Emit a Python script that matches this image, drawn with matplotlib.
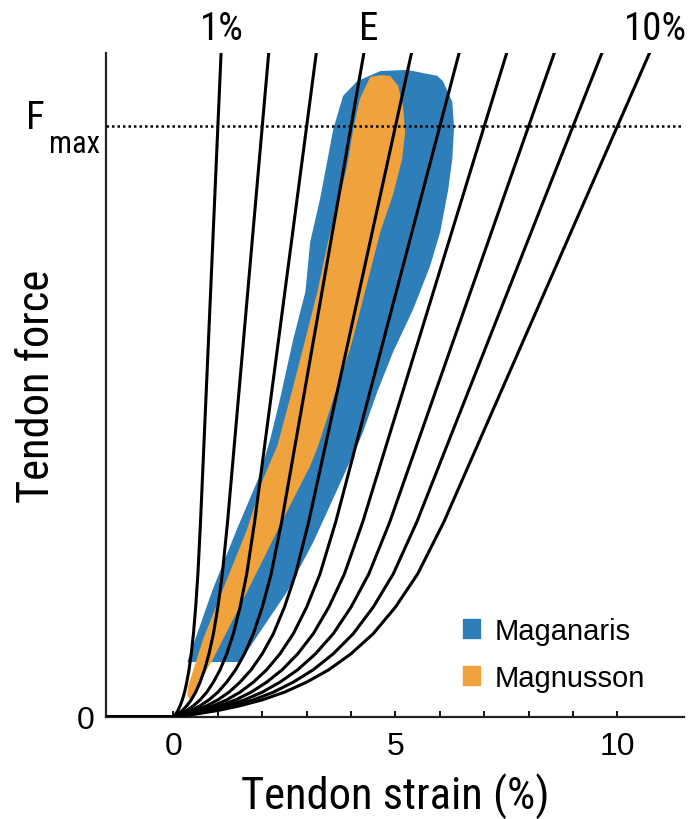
import numpy as np
import matplotlib.pyplot as plt
from matplotlib.patches import Patch

plt.rcParams['font.family'] = ['Liberation Sans', 'DejaVu Sans']
narrow = ['Roboto Condensed', 'Liberation Sans', 'DejaVu Sans']

# strain (%) at which each tendon curve reaches Fmax
strain_at_fmax = [1, 2, 3, 4, 5, 6, 7, 8, 9, 10]

# common curve shape (strain / strain at Fmax, force / Fmax)
shape_u = [-2.0, 0.0, 0.05, 0.10, 0.15, 0.20, 0.25, 0.30, 0.35, 0.40,
           0.45, 0.50, 0.55, 0.609, 1.10]
shape_f = [0.0, 0.0, 0.005, 0.011, 0.019, 0.029, 0.042, 0.059, 0.080, 0.107,
           0.141, 0.186, 0.242, 0.330, 1.171]

# Maganaris region outline (strain %, force / Fmax)
maganaris_x = [0.31, 0.89, 1.43, 1.91, 2.18, 2.40, 2.70, 2.97, 3.08, 3.30,
               3.46, 3.60, 3.82, 4.14, 4.66, 5.26, 5.94, 6.07, 6.28, 6.32,
               6.28, 6.19, 6.01, 5.78, 5.40, 4.95, 4.59, 4.27, 4.14, 3.15,
               2.56, 1.95, 1.50]
maganaris_f = [0.093, 0.217, 0.318, 0.403, 0.470, 0.538, 0.640, 0.719, 0.804, 0.876,
               0.939, 0.995, 1.051, 1.076, 1.093, 1.095, 1.085, 1.076, 1.041, 0.998,
               0.944, 0.893, 0.821, 0.763, 0.690, 0.618, 0.550, 0.482, 0.459, 0.296,
               0.212, 0.144, 0.093]

# Magnusson region outline
magnusson_x = [0.38, 0.31, 0.33, 0.67, 1.12, 1.66, 2.02, 2.34, 2.70, 3.01,
               3.24, 3.48, 3.71, 3.91, 4.05, 4.20, 4.43, 4.66, 4.88, 5.06,
               5.17, 5.22, 5.15, 4.95, 4.66, 4.27, 3.98, 3.60, 3.26, 3.08,
               2.47, 1.95, 1.43, 0.89, 0.53]
magnusson_f = [0.029, 0.036, 0.052, 0.132, 0.217, 0.318, 0.403, 0.459, 0.560, 0.651,
               0.719, 0.804, 0.868, 0.932, 0.995, 1.046, 1.083, 1.086, 1.085, 1.068,
               1.034, 0.990, 0.944, 0.885, 0.821, 0.707, 0.623, 0.538, 0.459, 0.425,
               0.335, 0.256, 0.178, 0.098, 0.052]

blue = '#2E7EBA'
orange = '#F0A33C'

fig = plt.figure(figsize=(6.91, 8.20), dpi=100)
ax = fig.add_axes([0.1534, 0.1244, 0.8365, 0.8097])

ax.fill(maganaris_x, maganaris_f, color=blue, lw=0, zorder=1)
ax.fill(magnusson_x, magnusson_f, color=orange, lw=0, zorder=2)

u = np.array(shape_u)
for s in strain_at_fmax:
    ax.plot(u * s, shape_f, color='black', lw=2.2, zorder=3)

ax.axhline(1.0, color='black', lw=1.8, ls=(0, (1.0, 1.2)), zorder=4)

ax.set_xlim(-1.52, 11.5)
ax.set_ylim(0, 1.1235)
ax.set_xticks(range(0, 11))
ax.set_xticklabels(['0', '', '', '', '', '5', '', '', '', '', '10'])
ax.set_yticks([0])
ax.set_yticklabels(['0'])
ax.tick_params(axis='x', direction='in', length=4.5, width=1.3, labelsize=23, pad=10)
ax.tick_params(axis='y', length=0, labelsize=23, pad=8)

for side in ['top', 'right']:
    ax.spines[side].set_visible(False)
for side in ['left', 'bottom']:
    ax.spines[side].set_linewidth(1.6)
    ax.spines[side].set_color('#222222')

ax.set_xlabel('Tendon strain (%)', fontsize=32, family=narrow, labelpad=9)
ax.set_ylabel('Tendon force', fontsize=32, family=narrow)
ax.yaxis.set_label_coords(-0.083, 0.5)

# Fmax label
ax.text(-0.1055, 1.015, 'F', transform=ax.get_yaxis_transform(),
        ha='right', va='center', fontsize=28, family=narrow)
ax.text(-0.0986, 0.956, 'max', transform=ax.get_yaxis_transform(),
        ha='left', va='baseline', fontsize=22, family=narrow)

# labels above the curves
top = ax.get_xaxis_transform()
ax.text(1.08, 1.021, '1%', transform=top, ha='center', va='baseline', fontsize=28, family=narrow)
ax.text(4.40, 1.021, 'E', transform=top, ha='center', va='baseline', fontsize=28, family=narrow)
ax.text(10.85, 1.021, '10%', transform=top, ha='center', va='baseline', fontsize=28, family=narrow)

handles = [Patch(color=blue, label='Maganaris'), Patch(color=orange, label='Magnusson')]
ax.legend(handles=handles, loc='upper left', bbox_to_anchor=(0.617, 0.151),
          frameon=False, fontsize=21, handlelength=0.6, handleheight=0.6,
          handletextpad=0.5, labelspacing=0.65, borderpad=0, borderaxespad=0)

fig.savefig('out.png', dpi=100)
